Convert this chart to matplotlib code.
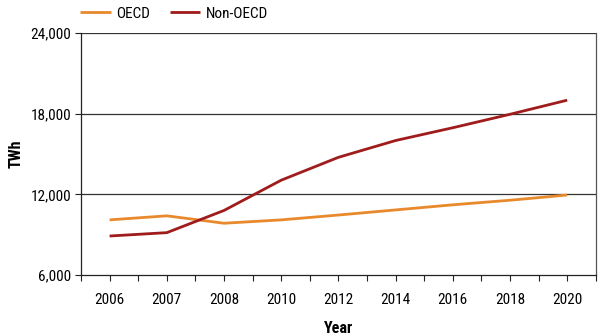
import matplotlib.pyplot as plt
import numpy as np

plt.rcParams['font.family'] = ['Roboto Condensed', 'Liberation Sans Narrow', 'Roboto', 'DejaVu Sans']

years = ['2006', '2007', '2008', '2010', '2012', '2014', '2016', '2018', '2020']
oecd = [10100, 10400, 9850, 10100, 10460, 10840, 11220, 11560, 11950]
non_oecd = [8900, 9150, 10800, 13050, 14750, 16000, 16950, 17950, 19000]

fig = plt.figure(figsize=(6, 3.36), dpi=100)
ax = fig.add_axes([0.135, 0.1815, 0.858, 0.7205])

x = np.arange(len(years))
ax.plot(x, oecd, color='#E8892B', lw=2.0, label='OECD', solid_capstyle='butt')
ax.plot(x, non_oecd, color='#A01C1C', lw=2.0, label='Non-OECD', solid_capstyle='butt')

ax.set_xlim(-0.5, len(years) - 0.5)
ax.set_ylim(6000, 24000)
ax.set_xticks(x)
ax.set_xticklabels(years)
ax.set_xticks(np.arange(len(years) + 1) - 0.5, minor=True)
ax.set_yticks([6000, 12000, 18000, 24000])
ax.set_yticklabels(['6,000', '12,000', '18,000', '24,000'])

ax.tick_params(axis='x', which='both', length=4, width=0.8, color='#222222',
               labelsize=11, pad=9)
ax.tick_params(axis='y', length=4, width=0.8, color='#222222', labelsize=11, pad=3)

for y in [12000, 18000, 24000]:
    ax.axhline(y, color='#333333', lw=0.9, zorder=0)

ax.spines['top'].set_visible(False)
for s in ['left', 'bottom']:
    ax.spines[s].set_color('#222222')
    ax.spines[s].set_linewidth(0.9)
ax.spines['right'].set_color('#555555')
ax.spines['right'].set_linewidth(0.9)

ax.set_xlabel('Year', fontsize=11.5, fontweight='bold', labelpad=10)
ax.set_ylabel('TWh', fontsize=11.5, fontweight='bold', labelpad=5)

ax.legend(loc='lower left', bbox_to_anchor=(-0.005, 1.045), ncol=2, frameon=False,
          fontsize=11, handlelength=2.0, handletextpad=0.35, columnspacing=1.3,
          borderaxespad=0, borderpad=0.1)

fig.savefig('out.png', dpi=100)
